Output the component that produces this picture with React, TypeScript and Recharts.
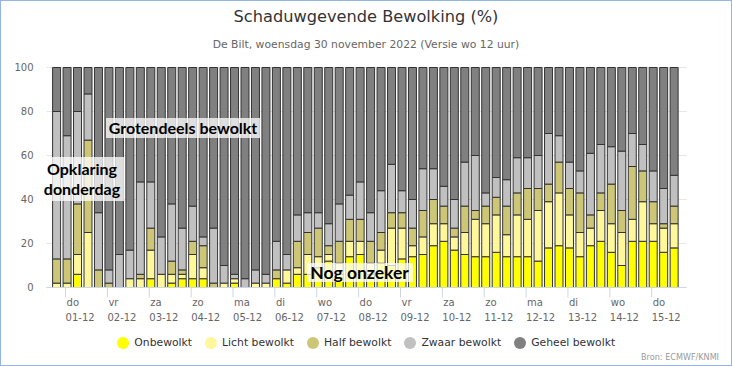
import React from 'react';
import { BarChart, Bar, XAxis, YAxis, CartesianGrid } from 'recharts';

const dayNames = ['do', 'vr', 'za', 'zo', 'ma', 'di', 'wo', 'do', 'vr', 'za', 'zo', 'ma', 'di', 'wo', 'do'];
const dayDates = ['01-12', '02-12', '03-12', '04-12', '05-12', '06-12', '07-12', '08-12', '09-12', '10-12', '11-12', '12-12', '13-12', '14-12', '15-12'];
const runHours = ['00', '06', '12', '18'];
const slots: string[] = [
  '30-11 18',
  ...dayDates.flatMap((d, i) => (i === dayDates.length - 1 ? runHours.slice(0, 3) : runHours).map((h) => `${d} ${h}`)),
];
const yTicks = [0, 20, 40, 60, 80, 100];

const onbewolkt = [0, 0, 6, 0, 0, 0, 0, 0, 0, 4, 0, 2, 4, 4, 4, 0, 0, 2, 0, 0, 0, 4, 2, 6, 6, 9, 12, 6, 14, 15, 6, 11, 10, 13, 14, 15, 19, 21, 17, 15, 14, 14, 16, 14, 14, 14, 12, 18, 19, 18, 14, 19, 21, 16, 10, 21, 21, 21, 16, 18];
const lichtBewolkt = [2, 2, 9, 25, 0, 0, 0, 4, 4, 13, 6, 4, 2, 11, 5, 0, 2, 2, 0, 2, 2, 0, 6, 3, 9, 5, 3, 5, 7, 6, 5, 6, 17, 14, 5, 8, 10, 8, 6, 10, 17, 15, 17, 10, 19, 17, 23, 21, 24, 15, 11, 8, 14, 13, 15, 10, 18, 8, 11, 11];
const halfBewolkt = [11, 11, 23, 42, 8, 2, 0, 0, 2, 10, 0, 6, 2, 6, 10, 2, 0, 0, 0, 0, 0, 4, 0, 12, 10, 13, 4, 10, 10, 10, 10, 8, 7, 7, 8, 12, 11, 8, 4, 12, 4, 8, 8, 13, 10, 14, 10, 8, 14, 12, 18, 6, 8, 18, 10, 24, 14, 10, 2, 8];
const zwaarBewolkt = [67, 56, 42, 21, 26, 6, 15, 13, 42, 21, 17, 26, 19, 16, 4, 25, 8, 2, 4, 6, 4, 13, 7, 12, 9, 7, 10, 17, 11, 17, 13, 19, 22, 10, 13, 19, 14, 9, 13, 20, 25, 6, 9, 12, 16, 14, 15, 23, 12, 12, 10, 28, 22, 17, 27, 15, 12, 14, 16, 14];
const geheelBewolkt = [20, 31, 20, 12, 66, 92, 85, 83, 52, 52, 77, 62, 73, 63, 77, 73, 90, 94, 96, 92, 94, 79, 85, 67, 66, 66, 71, 62, 58, 52, 66, 56, 44, 56, 60, 46, 46, 54, 60, 43, 40, 57, 50, 51, 41, 41, 40, 30, 31, 43, 47, 39, 35, 36, 38, 30, 35, 47, 55, 49];

const seriesNames = ['Onbewolkt', 'Licht bewolkt', 'Half bewolkt', 'Zwaar bewolkt', 'Geheel bewolkt'];
const seriesKeys = ['on', 'licht', 'half', 'zwaar', 'geheel'];
const seriesColors = ['#ffff00', '#fff799', '#cdc676', '#c0c0c0', '#808080'];

const data = slots.map((slot, i) => ({
  slot,
  on: onbewolkt[i],
  licht: lichtBewolkt[i],
  half: halfBewolkt[i],
  zwaar: zwaarBewolkt[i],
  geheel: geheelBewolkt[i],
}));

const FONT = '"DejaVu Sans", sans-serif';
const LABEL_FONT = 'Lato, "DejaVu Sans", sans-serif';

const DayTick = (props: any) => {
  const { x, y, payload } = props;
  const idx = dayDates.indexOf(String(payload.value).split(' ')[0]);
  const tx = x - 1.75;
  return (
    <g>
      <line x1={tx} x2={tx} y1={y} y2={y + 10} stroke="#ccd6eb" strokeWidth={1} />
      <text x={tx + 1} y={y + 18} fontSize={10} fill="#666" fontFamily={FONT} textAnchor="start">
        {dayNames[idx]}
      </text>
      <text x={tx} y={y + 33.5} fontSize={10} fill="#666" fontFamily={FONT} textAnchor="start">
        {dayDates[idx]}
      </text>
    </g>
  );
};

const boxStyle: React.CSSProperties = {
  position: 'absolute',
  background: 'rgba(255,255,255,0.75)',
  fontFamily: LABEL_FONT,
  fontWeight: 700,
  fontSize: 16,
  color: '#000',
  textAlign: 'center',
  whiteSpace: 'nowrap',
};

export default function App() {
  return (
    <div
      style={{
        position: 'absolute',
        left: 0,
        top: 0,
        width: 732,
        height: 366,
        background: '#fff',
        overflow: 'hidden',
        fontFamily: FONT,
      }}
    >
      <div style={{ position: 'absolute', left: 0, top: 0 }}>
        <BarChart width={732} height={366} data={data} margin={{ top: 67.5, right: 0, bottom: 0, left: 0 }}>
          <CartesianGrid yAxisId="left" horizontal vertical={false} stroke="#e6e6e6" />
          <XAxis
            dataKey="slot"
            type="category"
            ticks={dayDates.map((d) => `${d} 00`)}
            interval={0}
            tick={<DayTick />}
            tickLine={false}
            tickSize={0}
            tickMargin={0}
            axisLine={{ stroke: '#ccd6eb' }}
            height={78.5}
            padding={{ left: 5.1, right: 6.9 }}
          />
          <YAxis
            yAxisId="left"
            orientation="left"
            width={46.5}
            domain={[0, 100]}
            ticks={yTicks}
            axisLine={false}
            tickLine={false}
            tickSize={0}
            tickMargin={13}
            tick={{ fontSize: 10, fill: '#666', fontFamily: FONT }}
          />
          <YAxis
            yAxisId="right"
            orientation="right"
            width={45.5}
            domain={[0, 100]}
            ticks={yTicks}
            axisLine={false}
            tickLine={false}
            tickSize={0}
            tickMargin={13}
            tick={{ fontSize: 10, fill: '#666', fontFamily: FONT }}
          />
          {seriesKeys.map((k, i) => (
            <Bar
              key={k}
              yAxisId="left"
              dataKey={k}
              name={seriesNames[i]}
              stackId="a"
              fill={seriesColors[i]}
              stroke="#333"
              strokeWidth={1}
              barSize={8}
              isAnimationActive={false}
            />
          ))}
        </BarChart>
      </div>

      <div
        style={{
          position: 'absolute',
          left: 0,
          top: 8,
          width: 732,
          textAlign: 'center',
          fontSize: 16.2,
          lineHeight: '18px',
          color: '#333',
        }}
      >
        Schaduwgevende Bewolking (%)
      </div>
      <div
        style={{
          position: 'absolute',
          left: 0,
          top: 37.5,
          width: 732,
          textAlign: 'center',
          fontSize: 10.8,
          lineHeight: '13px',
          color: '#666',
        }}
      >
        De Bilt, woensdag 30 november 2022 (Versie wo 12 uur)
      </div>

      <div style={{ ...boxStyle, left: 40, top: 156.5, width: 84, height: 44, lineHeight: '20px', paddingTop: 2, boxSizing: 'border-box' }}>
        Opklaring
        <br />
        donderdag
      </div>
      <div style={{ ...boxStyle, left: 106, top: 118, width: 154, height: 19.5, lineHeight: '19.5px' }}>Grotendeels bewolkt</div>
      <div style={{ ...boxStyle, left: 306.5, top: 262.5, width: 106, height: 19, lineHeight: '19px', fontSize: 17.5 }}>Nog onzeker</div>

      <div
        style={{
          position: 'absolute',
          left: 0,
          top: 336,
          width: 732,
          height: 14,
          display: 'flex',
          justifyContent: 'center',
          alignItems: 'center',
          fontSize: 10.8,
          color: '#333',
        }}
      >
        {seriesNames.map((n, i) => (
          <div key={n} style={{ display: 'flex', alignItems: 'center', marginRight: i === seriesNames.length - 1 ? 0 : 12.5 }}>
            <span
              style={{
                display: 'inline-block',
                width: 12,
                height: 12,
                borderRadius: 6,
                background: seriesColors[i],
                marginRight: 5.5,
              }}
            />
            <span style={{ lineHeight: '14px' }}>{n}</span>
          </div>
        ))}
      </div>

      <div
        style={{
          position: 'absolute',
          right: 13,
          top: 352,
          fontSize: 8.1,
          lineHeight: '10px',
          color: '#999',
        }}
      >
        Bron: ECMWF/KNMI
      </div>

      <div
        style={{
          position: 'absolute',
          left: 0,
          top: 0,
          width: 732,
          height: 366,
          border: '1px solid #92b5e6',
          boxSizing: 'border-box',
          pointerEvents: 'none',
        }}
      />
    </div>
  );
}
